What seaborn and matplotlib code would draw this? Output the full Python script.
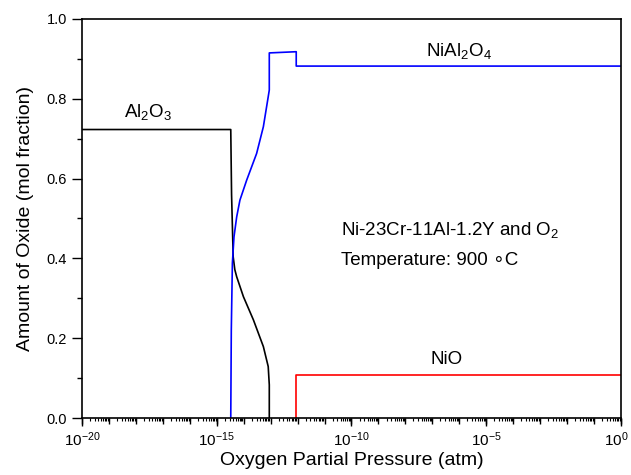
import numpy as np
import pandas as pd
import matplotlib
matplotlib.use("Agg")
import matplotlib.pyplot as plt
import matplotlib.ticker as mticker
import matplotlib.transforms as mtransforms
import seaborn as sns

# values (log10 of pO2 in atm, mol fraction)
al2o3_logp = [-20, -14.48, -14.45, -14.39, -14.33, -14.26, -14.01, -13.64, -13.27, -13.09, -13.05, -13.05]
al2o3_frac = [0.723, 0.723, 0.56, 0.404, 0.372, 0.354, 0.304, 0.246, 0.179, 0.129, 0.083, 0.0]

spinel_logp = [-14.48, -14.46, -14.42, -14.36, -14.26, -14.14, -13.89, -13.52, -13.27, -13.09, -13.05, -13.05, -12.05, -12.05, 0]
spinel_frac = [0.0, 0.22, 0.388, 0.454, 0.504, 0.546, 0.596, 0.663, 0.73, 0.805, 0.822, 0.915, 0.918, 0.882, 0.882]

nio_logp = [-12.05, -12.05, 0]
nio_frac = [0.0, 0.109, 0.109]

phases = ["Al2O3", "NiAl2O4", "NiO"]
colors = {"Al2O3": "black", "NiAl2O4": "#0000FF", "NiO": "#FF0000"}

frames = []
for name, lp, fr in zip(phases, [al2o3_logp, spinel_logp, nio_logp],
                        [al2o3_frac, spinel_frac, nio_frac]):
    d = pd.DataFrame({"p": 10.0 ** np.array(lp), "frac": fr})
    d["phase"] = name
    frames.append(d)
df = pd.concat(frames, ignore_index=True)

sns.set_style("ticks")
plt.rcParams["font.family"] = ["Liberation Sans", "DejaVu Sans"]
plt.rcParams["mathtext.fontset"] = "custom"
plt.rcParams["mathtext.rm"] = "Liberation Sans"
plt.rcParams["mathtext.it"] = "Liberation Sans:italic"
plt.rcParams["mathtext.default"] = "regular"
plt.rcParams["text.color"] = "black"
plt.rcParams["axes.labelcolor"] = "black"
plt.rcParams["xtick.color"] = "black"
plt.rcParams["ytick.color"] = "black"

fig = plt.figure(figsize=(6.31, 4.75), dpi=100)
ax = fig.add_axes([0.13, 0.12, 0.854, 0.84])

# one call per phase so the step (repeated x) points stay in order
for name in phases:
    sns.lineplot(data=df[df["phase"] == name], x="p", y="frac", sort=False,
                 estimator=None, color=colors[name], linewidth=1.2, ax=ax, legend=False)

ax.set_xscale("log")
ax.set_xlim(1e-20, 1)
ax.set_ylim(0, 1.0)

ax.xaxis.set_major_locator(mticker.FixedLocator([1e-20, 1e-15, 1e-10, 1e-5, 1]))
ax.xaxis.set_major_formatter(mticker.LogFormatterSciNotation())
ax.xaxis.set_minor_locator(mticker.LogLocator(base=10, subs=np.arange(1, 10), numticks=400))
ax.xaxis.set_minor_formatter(mticker.NullFormatter())
ax.yaxis.set_major_locator(mticker.MultipleLocator(0.2))
ax.yaxis.set_minor_locator(mticker.MultipleLocator(0.1))
ax.yaxis.set_major_formatter(mticker.FormatStrFormatter("%.1f"))

ax.tick_params(axis="both", which="major", direction="out", labelsize=10.5, width=1)
ax.tick_params(axis="x", which="major", length=6, pad=3, labelsize=11)
ax.tick_params(axis="x", which="minor", length=2.5, width=0.8)
ax.tick_params(axis="y", which="major", length=7, pad=4)
ax.tick_params(axis="y", which="minor", length=3.5, width=1)

# decade ticks as a middle level
sec = ax.secondary_xaxis("bottom")
sec.xaxis.set_major_locator(mticker.LogLocator(base=10, subs=(1.0,), numticks=40))
sec.xaxis.set_major_formatter(mticker.NullFormatter())
sec.xaxis.set_minor_locator(mticker.NullLocator())
sec.tick_params(axis="x", which="major", direction="out", length=4, width=1)
sec.spines["bottom"].set_visible(False)

for s in ax.spines.values():
    s.set_linewidth(1.2)
    s.set_color("black")

ax.set_xlabel("Oxygen Partial Pressure (atm)", fontsize=14, labelpad=2)
ax.set_ylabel("Amount of Oxide (mol fraction)", fontsize=14, labelpad=9)

ax.text(10 ** -17.56, 0.755, r"Al$_2$O$_3$", fontsize=13.5, ha="center", va="baseline")
ax.text(10 ** -6.0, 0.907, r"NiAl$_2$O$_4$", fontsize=13.5, ha="center", va="baseline")
ax.text(10 ** -6.47, 0.135, "NiO", fontsize=13.5, ha="center", va="baseline")
ax.text(10 ** -10.37, 0.459, r"Ni-23Cr-11Al-1.2Y and O$_2$", fontsize=13.5, ha="left", va="baseline")
ax.text(10 ** -10.37, 0.383, "Temperature: 900 \u2218C", fontsize=13.5, ha="left", va="baseline",
        family=["Liberation Sans", "DejaVu Sans"])

# nudge the 10^0 label left a little so it stays inside the image
fig.canvas.draw()
last = ax.xaxis.get_major_ticks()[-1].label1
last.set_transform(last.get_transform() + mtransforms.ScaledTranslation(-3 / 72, 0, fig.dpi_scale_trans))

fig.savefig("out.png", dpi=100)
